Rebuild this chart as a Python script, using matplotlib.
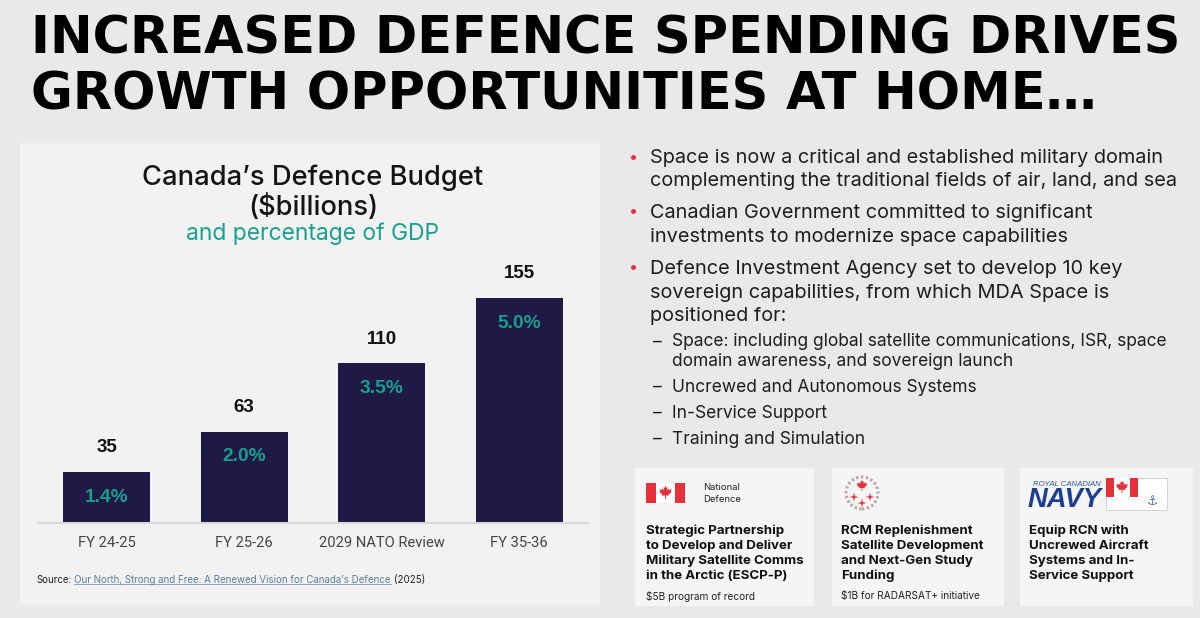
import math
import matplotlib
matplotlib.use("Agg")
import matplotlib.pyplot as plt
from matplotlib.patches import Rectangle, Polygon, Ellipse
from matplotlib.lines import Line2D

# ---------------- data ----------------
categories = ["FY 24-25", "FY 25-26", "2029 NATO Review", "FY 35-36"]
budget_billions = [35, 63, 110, 155]
gdp_pct = [1.4, 2.0, 3.5, 5.0]

title_lines = ["INCREASED DEFENCE SPENDING DRIVES", "GROWTH OPPORTUNITIES AT HOME…"]
chart_title = ["Canada’s Defence Budget", "($billions)"]
chart_subtitle = "and percentage of GDP"
source_parts = ["Source:", "Our North, Strong and Free: A Renewed Vision for Canada’s Defence", "(2025)"]

main_bullets = [
    ["Space is now a critical and established military domain",
     "complementing the traditional fields of air, land, and sea"],
    ["Canadian Government committed to significant",
     "investments to modernize space capabilities"],
    ["Defence Investment Agency set to develop 10 key",
     "sovereign capabilities, from which MDA Space is",
     "positioned for:"],
]
sub_bullets = [
    ["Space: including global satellite communications, ISR, space",
     "domain awareness, and sovereign launch"],
    ["Uncrewed and Autonomous Systems"],
    ["In-Service Support"],
    ["Training and Simulation"],
]
card_titles = [
    ["Strategic Partnership", "to Develop and Deliver", "Military Satellite Comms", "in the Arctic (ESCP-P)"],
    ["RCM Replenishment", "Satellite Development", "and Next-Gen Study", "Funding"],
    ["Equip RCN with", "Uncrewed Aircraft", "Systems and In-", "Service Support"],
]
card_notes = ["$5B program of record", "$1B for RADARSAT+ initiative", ""]

# ---------------- style ----------------
W, H = 1200, 618
BG = "#e9e9e9"
PANEL = "#f2f2f2"
CARD = "#f5f5f5"
NAVYBAR = "#1f1946"
TEAL = "#1aa08e"
RED = "#e8303a"
TXT = "#1e1e1e"
FONT = ["Inter", "DejaVu Sans"]
HEAVY = ["DejaVu Sans"]
ARIAL = ["Liberation Sans", "DejaVu Sans"]

plt.rcParams["font.family"] = FONT

fig = plt.figure(figsize=(12, 6.18), dpi=100, facecolor=BG)
renderer = fig.canvas.get_renderer()


def fx(px):
    return px / W


def fy(py):
    return 1 - py / H


def ftext(px, py, s, **kw):
    kw.setdefault("va", "center")
    kw.setdefault("ha", "left")
    return fig.text(fx(px), fy(py), s, **kw)


def fit(t, target):
    for _ in range(2):
        w = t.get_window_extent(renderer).width
        t.set_fontsize(t.get_fontsize() * target / w)
    return t.get_fontsize()


def rect(x0, y0, x1, y1, z=1, **kw):
    r = Rectangle((fx(x0), fy(y1)), fx(x1) - fx(x0), fy(y0) - fy(y1),
                  transform=fig.transFigure, zorder=z, **kw)
    fig.add_artist(r)
    return r


LEAF = [(0, 1.0), (0.12, 0.72), (0.3, 0.8), (0.22, 0.36), (0.45, 0.58), (0.52, 0.44),
        (0.84, 0.52), (0.72, 0.22), (0.86, 0.14), (0.44, -0.2), (0.5, -0.38),
        (0.07, -0.32), (0.07, -0.8)]
LEAF = LEAF + [(-x, y) for x, y in reversed(LEAF[1:])]


def leaf(cx, cy, s, color=RED):
    pts = [(fx(cx + x * s), fy(cy - y * s)) for x, y in LEAF]
    fig.add_artist(Polygon(pts, closed=True, transform=fig.transFigure,
                           facecolor=color, edgecolor="none", zorder=3))


def star4(cx, cy, s, color=RED):
    pts = []
    for k in range(8):
        r = s if k % 2 == 0 else s * 0.28
        ang = k * math.pi / 4
        pts.append((fx(cx + r * math.sin(ang)), fy(cy - r * math.cos(ang))))
    fig.add_artist(Polygon(pts, closed=True, transform=fig.transFigure,
                           facecolor=color, edgecolor="none", zorder=3))


def canada_flag(x0, y0, x1, y1):
    w = x1 - x0
    rect(x0, y0, x1, y1, z=2, facecolor="white", edgecolor="none")
    rect(x0, y0, x0 + w / 4, y1, z=2, facecolor=RED, edgecolor="none")
    rect(x1 - w / 4, y0, x1, y1, z=2, facecolor=RED, edgecolor="none")
    leaf((x0 + x1) / 2, (y0 + y1) / 2, (y1 - y0) * 0.36)


# ---------------- main title ----------------
t1 = ftext(31, 53, title_lines[0], fontsize=40, fontweight="bold", family=HEAVY,
           color="black", va="baseline")
fs = fit(t1, 1150)
ftext(31, 109, title_lines[1], fontsize=fs, fontweight="bold", family=HEAVY,
      color="black", va="baseline")

# ---------------- chart panel ----------------
rect(20, 143, 600, 605, z=0.5, facecolor=PANEL, edgecolor="none")

ct = ftext(313, 178, chart_title[0], ha="center", fontsize=17, fontweight="medium",
           color="#141414")
fs = fit(ct, 341)
ftext(313, 207, chart_title[1], ha="center", fontsize=fs, fontweight="medium", color="#141414")
st = ftext(313, 234, chart_subtitle, ha="center", fontsize=14, color=TEAL)
fit(st, 253)

# axes: x from 38..588 px, baseline at 523 px
px_per_unit = 225 / 155.0
ax_top = 260
ax = fig.add_axes([fx(38), fy(523), fx(588) - fx(38), (523 - ax_top) / H])
ax.set_zorder(2)
ax.set_facecolor("none")
xs = list(range(len(categories)))
ax.bar(xs, budget_billions, width=0.63, color=NAVYBAR, zorder=2)
ax.set_xlim(-0.5, 3.5)
ax.set_ylim(0, (523 - ax_top) / px_per_unit)
for s in ["top", "left", "right"]:
    ax.spines[s].set_visible(False)
ax.spines["bottom"].set_color("#d8d8d8")
ax.spines["bottom"].set_linewidth(1.5)
ax.set_yticks([])
ax.set_xticks(xs)
ax.set_xticklabels(categories, fontsize=11, color="#444444", family=["Roboto", "DejaVu Sans"])
ax.tick_params(axis="x", length=0, pad=9.5)
fig.canvas.draw()
tl = ax.get_xticklabels()
tfs = fit(tl[2], 126)
for lab in tl:
    lab.set_fontsize(tfs)
for i, (v, p) in enumerate(zip(budget_billions, gdp_pct)):
    ax.annotate(f"{v}", (i, v), xytext=(0, 17.5), textcoords="offset points",
                ha="center", va="center", fontsize=13.5, fontweight="bold", color="#111111",
                family=ARIAL)
    ax.annotate(f"{p:.1f}%", (i, v), xytext=(0, -18), textcoords="offset points",
                ha="center", va="center", fontsize=13.8, fontweight="bold", color=TEAL,
                family=ARIAL)

# source line
s1 = ftext(36, 580, source_parts[0], fontsize=7, color="#222222")
bb = s1.get_window_extent(renderer)
s2 = fig.text(bb.x1 / W + 3 / W, fy(580), source_parts[1], fontsize=7, color="#5d7c95",
              va="center", ha="left")
bb2 = s2.get_window_extent(renderer)
fig.add_artist(Line2D([bb2.x0 / W, bb2.x1 / W], [(bb2.y0 + 1) / H] * 2,
                      transform=fig.transFigure, color="#7d95a8", lw=0.6))
fig.text(bb2.x1 / W + 3 / W, fy(580), source_parts[2], fontsize=7, color="#222222",
         va="center", ha="left")

# ---------------- bullets ----------------
main_y = [158, 213, 269]
lh = 23.5
ref = ftext(650, main_y[0], main_bullets[0][0], fontsize=14, color=TXT)
fsb = fit(ref, 513)
for b, y0 in zip(main_bullets, main_y):
    ftext(629, y0 - 1, "•", fontsize=fsb * 0.8, color=RED)
    for k, line in enumerate(b):
        if b is main_bullets[0] and k == 0:
            continue
        ftext(650, y0 + k * lh, line, fontsize=fsb, color=TXT)

sub_y = [342, 387, 413, 439]
slh = 19.5
ref2 = ftext(672, sub_y[0], sub_bullets[0][0], fontsize=12, color=TXT)
fss = fit(ref2, 495)
for b, y0 in zip(sub_bullets, sub_y):
    ftext(653, y0, "–", fontsize=fss, color=TXT)
    for k, line in enumerate(b):
        if b is sub_bullets[0] and k == 0:
            continue
        ftext(672, y0 + k * slh, line, fontsize=fss, color=TXT)

# ---------------- cards ----------------
card_x = [(635, 814), (832, 1004), (1020, 1193)]
for (x0, x1) in card_x:
    rect(x0, 468, x1, 606, z=0.5, facecolor=CARD, edgecolor="none")

ref3 = ftext(646, 561, card_titles[0][2], fontsize=10, fontweight="bold", color="#111111")
fsc = fit(ref3, 159)
title_y = [531, 546, 561, 576]
for ci, lines in enumerate(card_titles):
    tx = card_x[ci][0] + 11 if ci == 0 else card_x[ci][0] + 9
    for k, line in enumerate(lines):
        if ci == 0 and k == 2:
            continue
        ftext(tx, title_y[k], line, fontsize=fsc, fontweight="bold", color="#111111")
ref4 = ftext(646, 596, card_notes[0], fontsize=7.5, color="#222222")
fsn = fit(ref4, 109)
ftext(841, 596, card_notes[1], fontsize=fsn, color="#222222")

# card 1 logo: flag + National Defence
canada_flag(646, 483, 685, 503)
ftext(703, 487, "National", fontsize=6.8, color="#222222")
ftext(703, 499.5, "Defence", fontsize=6.8, color="#222222")

# card 2 logo: Canadian Space Agency roundel
fig.add_artist(Ellipse((fx(862), fy(493)), 32 / W, 32 / H, transform=fig.transFigure,
                       facecolor="none", edgecolor="#b9a9a9", lw=2.2, ls=(0, (0.8, 0.8)),
                       zorder=2))
leaf(862, 486, 6)
star4(854, 497, 4.5)
star4(870, 497, 4.5)
star4(862, 503, 4.5)

# card 3 logo: Royal Canadian Navy
ftext(1033, 485, "ROYAL CANADIAN", fontsize=5.6, style="italic", color="#2a4fa0",
      family=ARIAL)
nv = ftext(1028, 500, "NAVY", fontsize=17, style="italic", fontweight="bold", color="#1d3f91",
           family=ARIAL)
fit(nv, 74)
rect(1106, 478, 1167, 510, z=1.5, facecolor="white", edgecolor="#c8ccd6", lw=0.6)
canada_flag(1106, 478, 1138, 497)
ftext(1152, 502, "⚓", fontsize=9, ha="center", color="#4a6fb0", zorder=3)

fig.savefig("out.png", dpi=100, facecolor=BG)
